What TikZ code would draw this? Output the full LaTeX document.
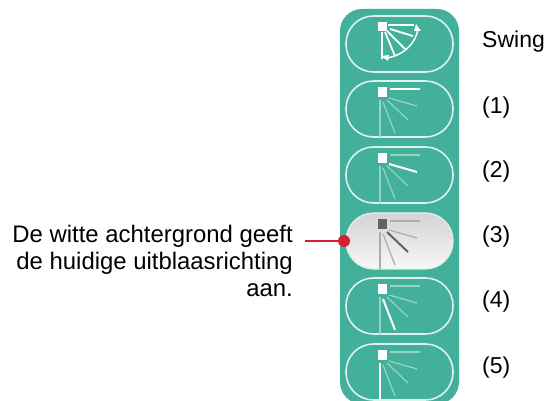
\documentclass[tikz,border=0pt]{standalone}
\usepackage{fontspec}
\setmainfont{Liberation Sans}
\definecolor{panel}{RGB}{66,176,155}
\definecolor{redline}{RGB}{214,32,50}
\definecolor{graylight}{RGB}{172,172,172}
\definecolor{pillline}{RGB}{222,242,236}
\tikzset{
  pillbox/.style={draw=pillline,line width=1.6pt,rounded corners=27.5pt},
  lbl/.style={font=\fontsize{23}{27}\selectfont,anchor=base west,inner sep=0pt},
  dimray/.style={line width=1.2pt},
  liveray/.style={line width=2pt},
}
\newcommand{\fanrays}[3]{%
  \begin{scope}[shift={(382,#1+11)}]
    \foreach \i/\xa/\ya/\xb/\yb in {1/8/-3/38/-3,2/7/6/35/14,3/5/8/26/28,4/1/10/13/41,5/-2/8/-2/45}{
      \ifnum\i=#3\relax\else\draw[#2,dimray] (\xa,\ya)--(\xb,\yb);\fi
    }
  \end{scope}}
\newcommand{\fanactive}[3]{%
  \begin{scope}[shift={(382,#1+11)}]
    \foreach \i/\xa/\ya/\xb/\yb in {1/8/-3/38/-3,2/7/6/35/14,3/5/8/26/28,4/1/10/13/41,5/-2/8/-2/45}{
      \ifnum\i=#3\relax\draw[#2,liveray] (\xa,\ya)--(\xb,\yb);\fi
    }
    \fill[#2] (-4,-5) rectangle (5,5);
  \end{scope}}
\begin{document}
\begin{tikzpicture}[x=1pt,y=-1pt]
\useasboundingbox (0,0) rectangle (547,401);
\begin{scope}
\clip (0,0) rectangle (547,401);
\fill[panel,rounded corners=22pt] (340,9) rectangle (459,404);
\end{scope}
\foreach \t in {16,81,147,278,344}{
  \draw[pillbox] (346,\t) rectangle (453,\t+56);
}
\shade[top color=black!17,bottom color=black!3,rounded corners=27.5pt,draw=pillline,line width=1.2pt] (346,213) rectangle (453,269);
% swing icon
\foreach \xa/\ya/\xb/\yb in {388/25/414/25,390/29/413/36,387/31/405/49,385/32/395/56,382/32/382/59}{
  \draw[white,line width=1.8pt] (\xa,\ya)--(\xb,\yb);
}
\draw[white,line width=1.5pt] (418,29) .. controls (416,42) and (405,55) .. (387,58);
\fill[white] (416,24)--(421,31)--(414,31)--cycle;
\fill[white] (381,56)--(389,55)--(388,61)--cycle;
\fill[white] (378,22) rectangle (387,31);
% fans
\fanrays{81}{white!45!panel}{1}\fanactive{81}{white}{1}
\fanrays{147}{white!45!panel}{2}\fanactive{147}{white}{2}
\fanrays{213}{graylight}{3}\fanactive{213}{black!62}{3}
\fanrays{278}{white!45!panel}{4}\fanactive{278}{white}{4}
\fanrays{344}{white!45!panel}{5}\fanactive{344}{white}{5}
% labels
\node[lbl] (swing) at (482,48) {Swing};
\node[lbl] (one) at (482,113.5) {(1)};
\node[lbl] (two) at (482,178) {(2)};
\node[lbl] (three) at (482,243) {(3)};
\node[lbl] (four) at (482,307.5) {(4)};
\node[lbl] (five) at (482,373) {(5)};
\node[font=\fontsize{23.9}{27}\selectfont,align=right,anchor=east,inner sep=0pt] (txt) at (293,261) {De witte achtergrond geeft\\de huidige uitblaasrichting\\aan.};
\node[circle,fill=redline,minimum size=12pt,inner sep=0pt] (dot) at (344,241) {};
\coordinate (st) at (305,241);
\draw[redline,line width=2pt] (st)--(dot);
\end{tikzpicture}
\end{document}
